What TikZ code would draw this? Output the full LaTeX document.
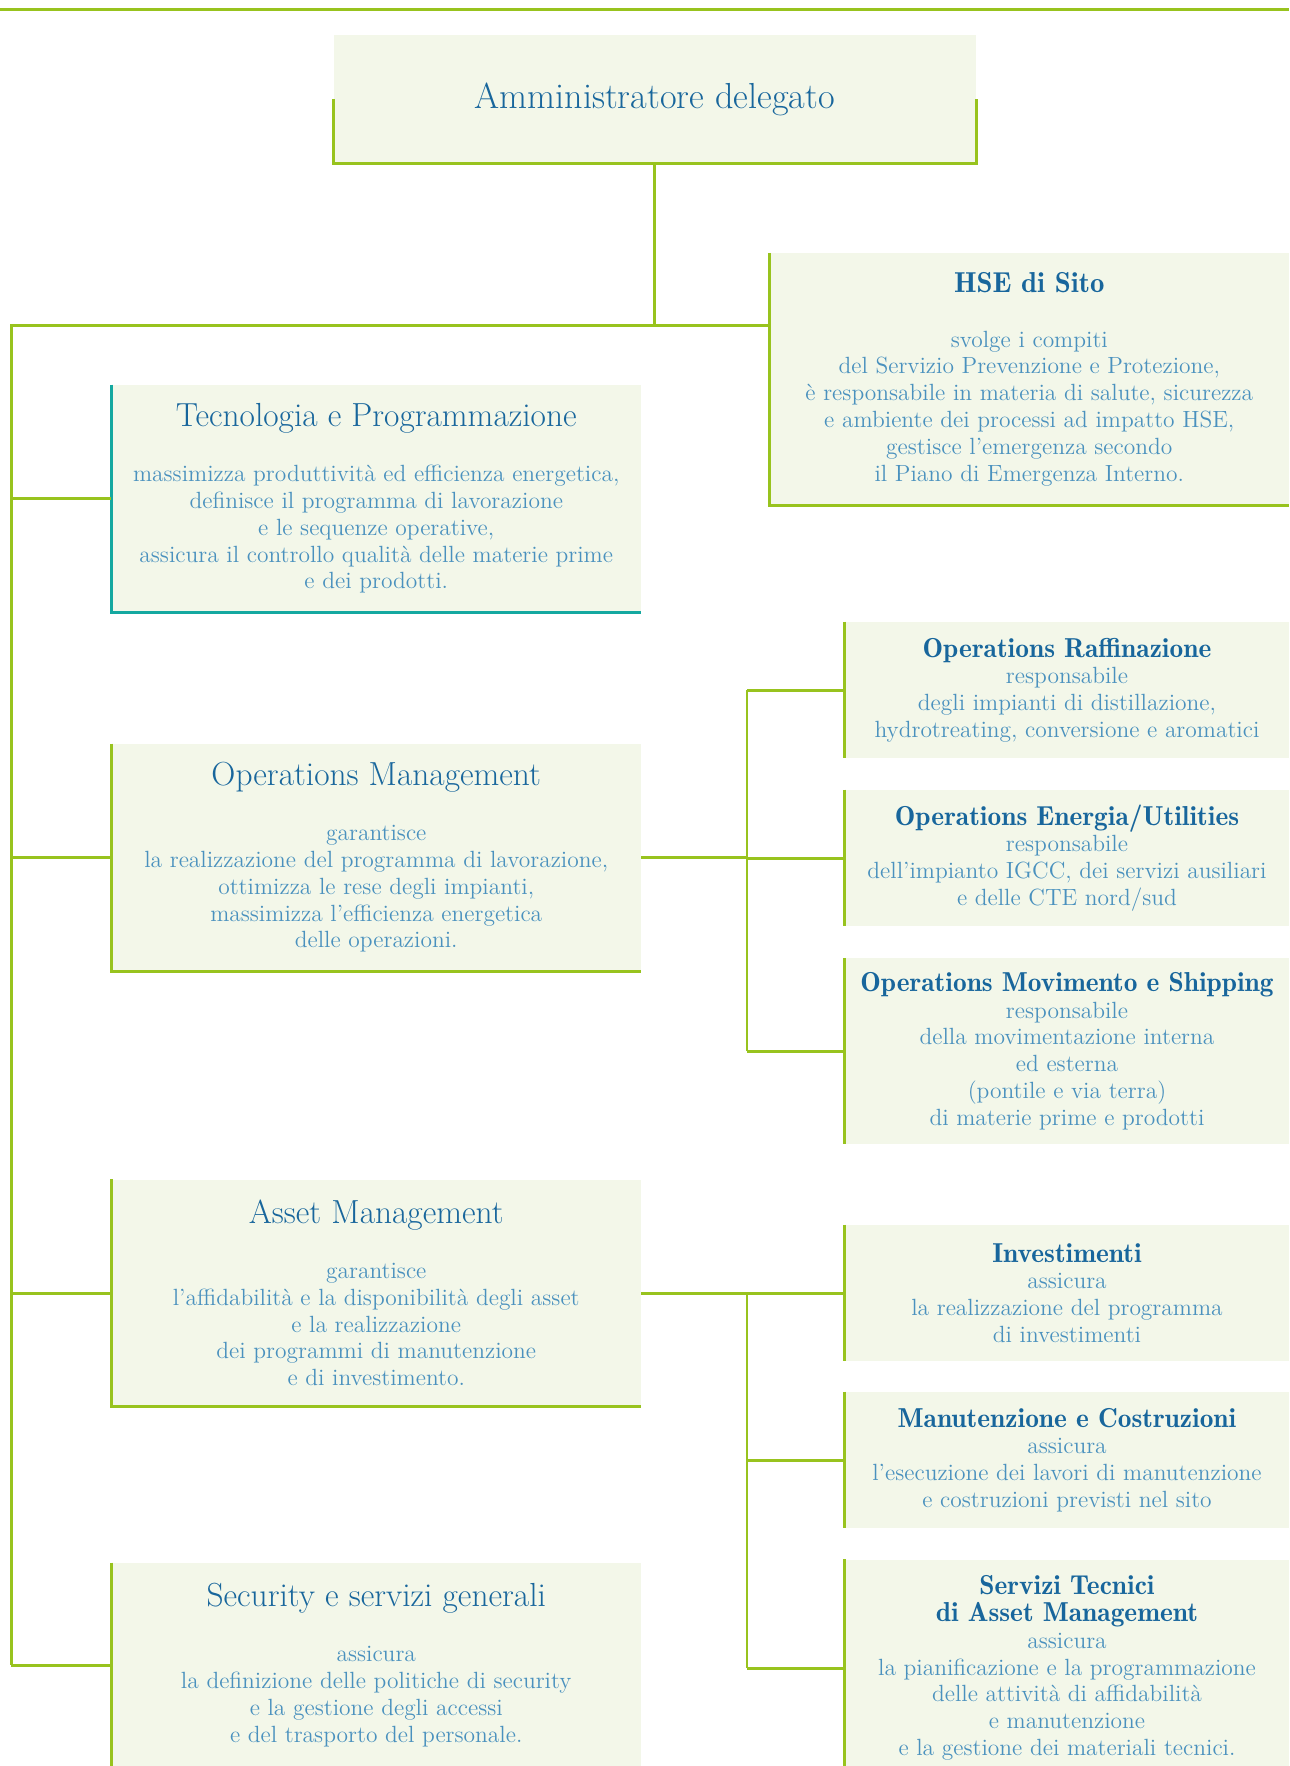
\documentclass[tikz,border=0pt]{standalone}
\usepackage{fontspec}
\usepackage{xcolor}
\usepackage{tikz}
\usetikzlibrary{positioning,calc}

\newfontfamily\demifam{lmromandemi10-regular.otf}

\definecolor{linegreen}{RGB}{152,195,30}
\definecolor{tealline}{RGB}{20,168,160}
\definecolor{boxfill}{RGB}{243,247,233}
\definecolor{headblue}{RGB}{24,102,156}
\definecolor{bodyblue}{RGB}{74,145,190}

\newcommand\bodyfont{\fontsize{13.35}{15.25}\selectfont}
\newcommand\headfont{\fontsize{19}{22}\selectfont\color{headblue}}
\newcommand\subheadfont{\demifam\fontsize{15.6}{18}\selectfont\color{headblue}}

\tikzset{
	unit/.style={fill=boxfill,inner sep=0pt,align=center,font=\bodyfont,text=bodyblue},
	dept/.style={unit,minimum width=10.59cm,minimum height=4.54cm},
	sub/.style={unit,minimum width=8.88cm,minimum height=2.72cm},
	rule/.style={draw=linegreen,line width=1.7pt},
}

\begin{document}
\begin{tikzpicture}[x=0.02cm,y=-0.02cm]
		\useasboundingbox (0,0) rectangle (1289,1766);
		\draw[rule] (0,9)--(1289,9);

		% top
		\node[unit,minimum width=12.85cm,minimum height=2.56cm] (ad) at (654.7,99) {\fontsize{20.6}{24}\selectfont\color{headblue}Amministratore delegato};
		\node[unit,minimum width=10.39cm,minimum height=5.03cm] (hse) at (1029.3,379) {{\subheadfont\fontsize{16.4}{19}\selectfont HSE di Sito}\\[16pt]svolge i compiti\\del Servizio Prevenzione e Protezione,\\è responsabile in materia di salute, sicurezza\\e ambiente dei processi ad impatto HSE,\\gestisce l’emergenza secondo\\il Piano di Emergenza Interno.};

		% left column
		\node[dept] (tec) at (376.25,498.5) {{\headfont Tecnologia e Programmazione}\\[16pt]massimizza produttività ed efficienza energetica,\\definisce il programma di lavorazione\\e le sequenze operative,\\assicura il controllo qualità delle materie prime\\e dei prodotti.};
		\node[dept] (ops) at (376.25,857.5) {{\headfont Operations Management}\\[16pt]garantisce\\la realizzazione del programma di lavorazione,\\ottimizza le rese degli impianti,\\massimizza l’efficienza energetica\\delle operazioni.};
		\node[dept] (asset) at (376.25,1293) {{\headfont Asset Management}\\[16pt]garantisce\\l’affidabilità e la disponibilità degli asset\\e la realizzazione\\dei programmi di manutenzione\\e di investimento.};
		\node[dept,minimum height=4.08cm] (sec) at (376.25,1665) {{\headfont Security e servizi generali}\\[16pt]assicura\\la definizione delle politiche di security\\e la gestione degli accessi\\e del trasporto del personale.};

		% right column
		\node[sub] (raf) at (1067,690) {{\subheadfont Operations Raffinazione}\\responsabile\\degli impianti di distillazione,\\hydrotreating, conversione e aromatici};
		\node[sub] (ene) at (1067,858) {{\subheadfont Operations Energia/Utilities}\\responsabile\\dell’impianto IGCC, dei servizi ausiliari\\e delle CTE nord/sud};
		\node[sub,minimum height=3.71cm] (mov) at (1067,1051) {{\subheadfont Operations Movimento e Shipping}\\responsabile\\della movimentazione interna\\ed esterna\\(pontile e via terra)\\di materie prime e prodotti};
		\node[sub] (inv) at (1067,1293) {{\subheadfont Investimenti}\\assicura\\la realizzazione del programma\\di investimenti};
		\node[sub] (man) at (1067,1460) {{\subheadfont Manutenzione e Costruzioni}\\assicura\\l’esecuzione dei lavori di manutenzione\\e costruzioni previsti nel sito};
		\node[sub,minimum height=4.34cm] (ser) at (1067,1668) {{\subheadfont Servizi Tecnici}\\{\subheadfont di Asset Management}\\assicura\\la pianificazione e la programmazione\\delle attività di affidabilità\\e manutenzione\\e la gestione dei materiali tecnici.};

		% box borders
		\draw[rule] (ad.west)--(ad.south west)--(ad.south east)--(ad.east);
		\draw[rule] (hse.north west)--(hse.south west)--(hse.south east);
		\draw[draw=tealline,line width=1.7pt] (tec.north west)--(tec.south west)--(tec.south east);
		\draw[rule] (ops.north west)--(ops.south west)--(ops.south east);
		\draw[rule] (asset.north west)--(asset.south west)--(asset.south east);
		\draw[rule] (sec.north west)--(sec.south west);
		\foreach \c in {raf,ene,mov,inv,man,ser}
			\draw[rule] (\c.north west)--(\c.south west);

		% connectors
		\coordinate (hub) at (11.3,325.6);
		\draw[rule] (ad.south)--(ad.south |- hub);
		\draw[rule] (hse.west |- hub)--(hub)--(hub |- sec.west);
		\foreach \d in {tec,ops,asset,sec}
			\draw[rule] (hub |- \d.west)--(\d.west);

		\coordinate (opsbus) at (747,857.5);
		\draw[rule] (ops.east)--(opsbus |- ops.east);
		\draw[rule] (opsbus |- raf.west)--(opsbus |- mov.west);
		\foreach \c in {raf,ene,mov}
			\draw[rule] (opsbus |- \c.west)--(\c.west);

		\coordinate (assetbus) at (747,1293);
		\draw[rule] (asset.east)--(assetbus |- asset.east);
		\draw[rule] (assetbus |- inv.west)--(assetbus |- ser.west);
		\foreach \c in {inv,man,ser}
			\draw[rule] (assetbus |- \c.west)--(\c.west);
	\end{tikzpicture}
\end{document}
